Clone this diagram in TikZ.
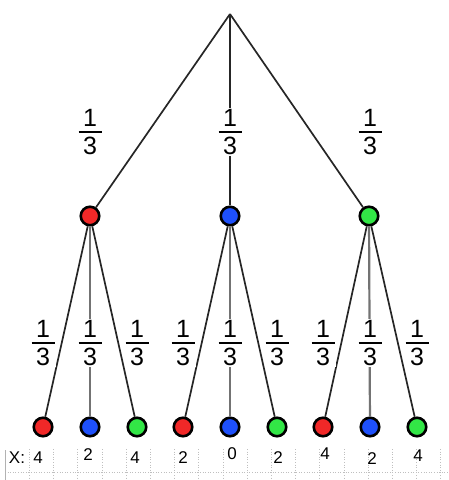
\documentclass[tikz,border=0pt]{standalone}
\usepackage{fontspec}
\setmainfont{Liberation Sans}
\definecolor{ballred}{RGB}{240,40,40}
\definecolor{ballblue}{RGB}{30,80,250}
\definecolor{ballgreen}{RGB}{50,230,70}
\newcommand{\onethird}{\vbox{\hbox to 23pt{\hss 1\hss}\kern4pt\hrule height 2.2pt\kern4pt\hbox to 23pt{\hss 3\hss}}}

\begin{document}
\begin{tikzpicture}[x=1pt,y=-1pt,
	ball/.style={circle,draw=black,line width=2.6pt,minimum size=18.5pt,inner sep=0pt},
	edge/.style={black!85,line width=1.7pt},
	frac/.style={fill=white,inner sep=1pt,font=\fontsize{25}{28}\selectfont},
	val/.style={font=\fontsize{17}{20}\selectfont}]
	\useasboundingbox (0,0) rectangle (448,480);
	\draw[black!25,dotted,line width=0.6pt] (5,472) -- (448,472);
	\foreach \k in {1,...,18} {\draw[black!25,dotted,line width=0.6pt] ({5+24.2*\k},449) -- ({5+24.2*\k},480);}
	\draw[black!30,line width=0.8pt] (5,450) -- (5,480);
	\coordinate (top) at (230,14);
	\node[ball,fill=ballred] (r) at (90,216) {};
	\node[ball,fill=ballblue] (b) at (230,216) {};
	\node[ball,fill=ballgreen] (g) at (369,216) {};
	\foreach \n/\x/\c in {rr/43/ballred, rb/90/ballblue, rg/137/ballgreen, br/183/ballred, bb/230/ballblue, bg/277/ballgreen, gr/323/ballred, gb/370/ballblue, gg/417/ballgreen} {\node[ball,fill=\c] (\n) at (\x,427) {};}
	\foreach \u/\v in {top/r, top/b, top/g, r/rr, r/rg, b/br, b/bg, g/gr, g/gg} {\draw[edge] (\u) -- (\v);}
	\foreach \u/\v in {r/rb, b/bb, g/gb} {\draw[edge,black!55,line width=2.2pt] (\u) -- (\v);}
	\foreach \n/\x in {pr/90, pb/230, pg/370} {\node[frac] (\n) at (\x,132) {\onethird};}
	\foreach \n/\x in {prr/43, prb/90, prg/137, pbr/183, pbb/230, pbg/277, pgr/323, pgb/370, pgg/417} {\node[frac] (\n) at (\x,343) {\onethird};}
	\node[val] (xlab) at (17,458) {X:};
	\foreach \n/\x/\y/\t in {xrr/38/458/4, xrb/88/455/2, xrg/135/458/4, xbr/183/458/2, xbb/232/454/0, xbg/278/458/2, xgr/325/454/4, xgb/372/459/2, xgg/418/456/4} {\node[val] (\n) at (\x,\y) {\t};}
\end{tikzpicture}
\end{document}
